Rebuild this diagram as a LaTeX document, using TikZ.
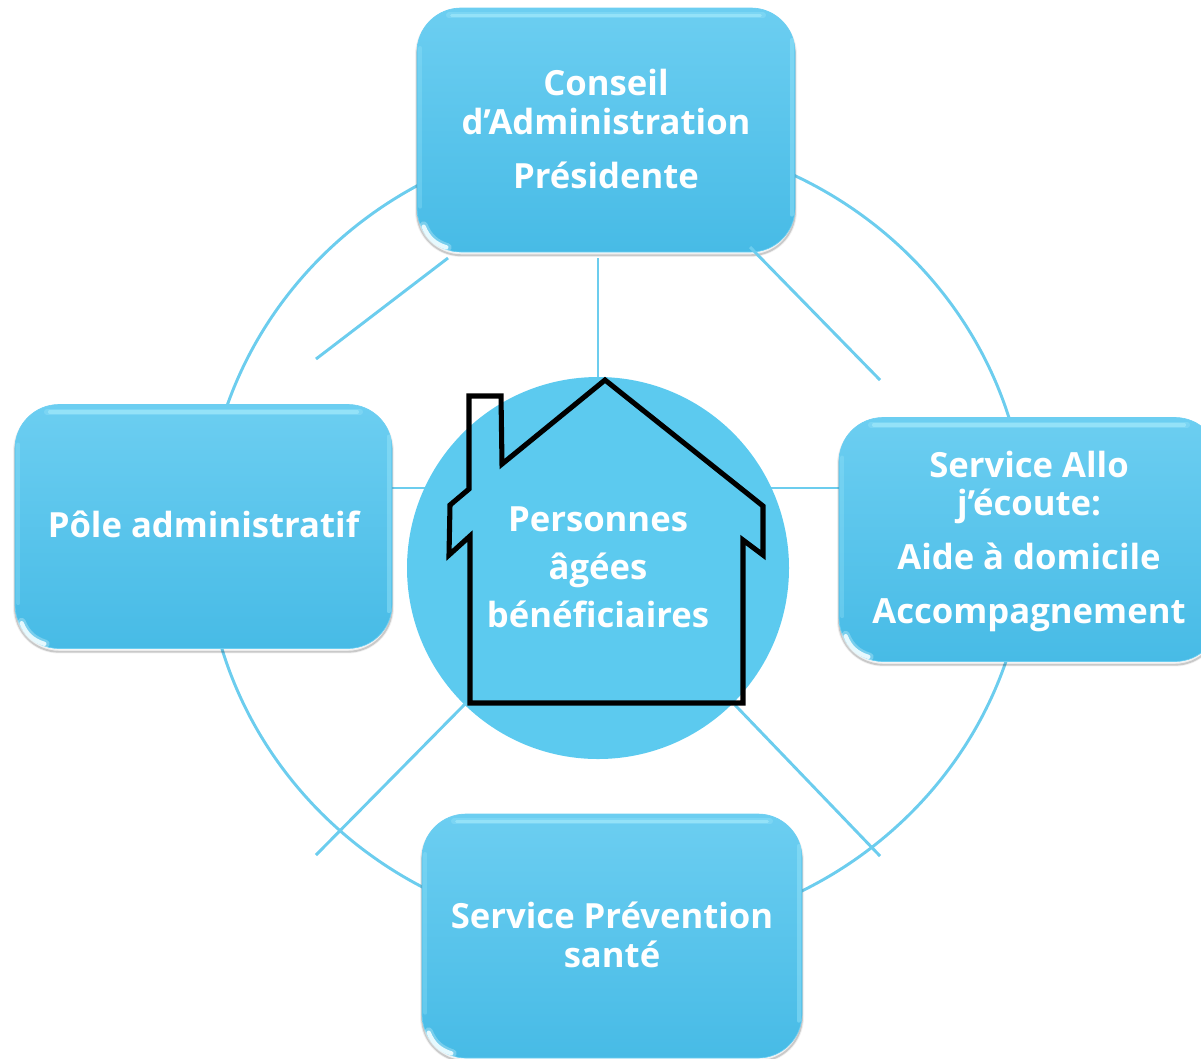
\documentclass[tikz,border=0pt]{standalone}
\usepackage{fontspec}
\setmainfont{Open Sans}
\usetikzlibrary{calc}
\definecolor{linecol}{HTML}{6CCDEE}
\definecolor{hubcol}{HTML}{5CCAEF}
\definecolor{boxtop}{HTML}{6CCEF1}
\definecolor{boxbot}{HTML}{47BBE6}
\definecolor{glosscol}{HTML}{9BE6FA}
\tikzset{
  px/.style={x=0.75pt,y=-0.75pt},
  link/.style={draw=linecol,line width=2.2pt},
  boxnode/.style={
    rectangle,rounded corners=33pt,minimum width=#1*0.75pt,minimum height=183pt,
    inner sep=0pt,outer sep=0pt,align=center,text=white,font=\fontsize{26}{29}\selectfont\bfseries,
    top color=boxtop,bottom color=boxbot,draw=boxtop,line width=.5pt,
    preaction={draw=black,line width=3pt,draw opacity=.06,fill=none,transform canvas={yshift=-2.2pt}},
    preaction={draw=black,line width=1.4pt,draw opacity=.16,fill=none,transform canvas={yshift=-2.4pt}},
  },
  hubnode/.style={circle,fill=hubcol,minimum size=286.5pt,inner sep=0pt,outer sep=0pt},
  hubtextnode/.style={inner sep=0pt,align=center,text=white,font=\fontsize{26}{36}\selectfont\bfseries},
  housepath/.style={draw=black,line width=3.8pt,line join=miter,miter limit=3},
  gloss/.style={draw=glosscol,line cap=round},
  corner/.style={draw=white!75!glosscol,line cap=round},
}
\newcommand{\lifted}[2]{\raisebox{#1}[\height][\depth]{\parbox{280pt}{\centering #2}}}
\newcommand{\glossbox}[1]{%
  \draw[gloss,line width=4.5pt,draw opacity=.35] ($(#1.north west)+(24pt,-5.5pt)$) -- ($(#1.north east)+(-24pt,-5.5pt)$);
  \draw[gloss,line width=2.5pt,draw opacity=.8] ($(#1.north west)+(26pt,-5.5pt)$) -- ($(#1.north east)+(-26pt,-5.5pt)$);
  \draw[gloss,line width=3pt,draw opacity=.3] ($(#1.north west)+(2.5pt,-30pt)$) -- ($(#1.south west)+(2.5pt,34pt)$);
  \draw[gloss,line width=3pt,draw opacity=.45] ($(#1.north east)+(-2.5pt,-24pt)$) -- ($(#1.south east)+(-2.5pt,28pt)$);
  \draw[corner,line width=6pt,draw opacity=.3] ($(#1.south west)+(5pt,20pt)$) to[bend right=25] ($(#1.south west)+(23pt,3.5pt)$);
  \draw[corner,line width=3.2pt] ($(#1.south west)+(5pt,19pt)$) to[bend right=25] ($(#1.south west)+(22pt,3.5pt)$);
}
\begin{document}
\begin{tikzpicture}[px]
\useasboundingbox (0,0) rectangle (1201,1058);
\clip (0,0) rectangle (1201,1058);
\coordinate (ringc) at (616,535);
\coordinate (tlA) at (448,258);
\coordinate (tlB) at (316,359);
\coordinate (tmA) at (598,258);
\coordinate (trA) at (750,247);
\coordinate (trB) at (880,380);
\coordinate (mlA) at (388,488);
\coordinate (mlB) at (430,488);
\coordinate (mrA) at (768,488);
\coordinate (mrB) at (850,488);
\coordinate (blA) at (466,703);
\coordinate (blB) at (316,855);
\coordinate (brA) at (735,705);
\coordinate (brB) at (880,856);
\path[link] (ringc) circle [x radius=411,y radius=399];
\path[link] (tlA) -- (tlB);
\path[link] (mlA) -- (mlB);
\path[link] (mrA) -- (mrB);
\node[hubnode] (hub) at (598,568) {};
\path[link] (tmA) -- (hub.north);
\path[link] (blA) -- (blB);
\path[link] (brA) -- (brB);
\node[boxnode=378] (conseil) at (606,130)
  {\lifted{1pt}{Conseil\\d’Administration\\[11.5pt]Présidente}};
\node[boxnode=377] (pole) at (203.5,526.5) {\lifted{1.5pt}{Pôle administratif}};
\node[boxnode=380] (allo) at (1029,539.5)
  {\lifted{-1.5pt}{Service Allo\\j’écoute:\\[11.5pt]Aide à domicile\\[11.5pt]Accompagnement}};
\node[boxnode=380] (prev) at (612,936) {\lifted{1pt}{Service Prévention\\santé}};
\glossbox{conseil}
\glossbox{pole}
\glossbox{allo}
\glossbox{prev}
\path[link] (trA) -- (trB);
\node[hubtextnode] (hubtext) at (598,567)
  {Personnes\\âgées\\bénéficiaires};
\path[housepath] (469,396) -- (501,396) -- (502,464) -- (605,380) -- (763,506) -- (763,555)
  -- (743,540) -- (743,703) -- (470,703) -- (470,536) -- (449,555) -- (450,505) -- (469,489) -- cycle;
\end{tikzpicture}
\end{document}
